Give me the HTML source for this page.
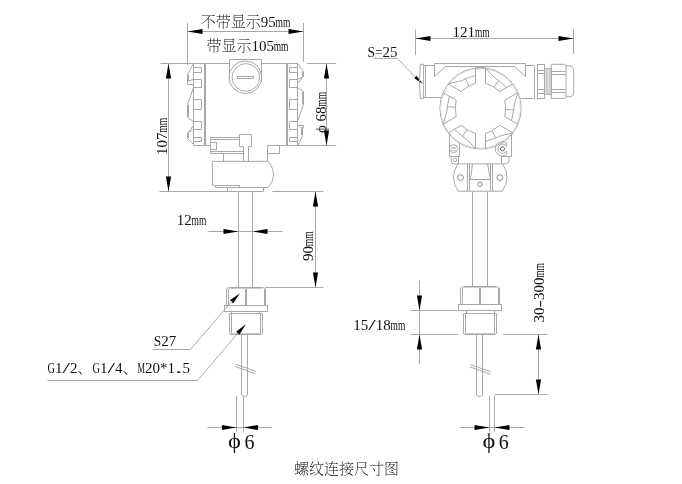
<!DOCTYPE html>
<html lang="zh-CN"><head><meta charset="utf-8"><title>螺纹连接尺寸图</title>
<style>
html,body{margin:0;padding:0;background:#fff}
svg{display:block;will-change:transform}
svg line,svg path,svg rect,svg circle{fill:none;stroke:#a8a8a8;stroke-width:1}
svg .g{stroke:#cccccc}
svg .g2{stroke:#e2e2e2}
svg .k2{stroke:#888}
svg .k{stroke:#666;stroke-width:1}
svg .gl{fill:#e6e6e6}
svg .hb{stroke:#aaaaaa;stroke-width:1.6}
svg polygon.a{fill:#000;stroke:none}
svg text{font-weight:200;font-family:"Liberation Serif","Noto Serif CJK SC",serif;font-size:15px;fill:#111}
</style></head><body>
<svg width="682" height="484" viewBox="0 0 682 484">
<line x1="187.50" y1="23.00" x2="187.50" y2="65.40"/>
<line x1="303.50" y1="23.00" x2="303.50" y2="61.60"/>
<line x1="187.60" y1="31.50" x2="303.70" y2="31.50"/>
<polygon class="a" points="187.50,31.50 202.50,34.10 202.50,28.90"/>
<polygon class="a" points="303.50,31.50 288.50,28.90 288.50,34.10"/>
<text x="200.70" y="26.60">不带显示95<tspan dx="-0.2" textLength="14.8" lengthAdjust="spacingAndGlyphs">mm</tspan></text>
<text x="206.40" y="51.10">带显示105<tspan dx="-0.2" textLength="14.8" lengthAdjust="spacingAndGlyphs">mm</tspan></text>
<line x1="160.50" y1="63.50" x2="229.10" y2="63.50"/>
<line x1="159.50" y1="191.50" x2="263.30" y2="191.50"/>
<line x1="168.50" y1="63.20" x2="168.50" y2="191.30"/>
<polygon class="a" points="168.50,63.50 165.90,78.50 171.10,78.50"/>
<polygon class="a" points="168.50,191.50 171.10,176.50 165.90,176.50"/>
<text x="166.60" y="155.00" transform="rotate(-90 166.60 155.00)">107<tspan dx="-0.2" textLength="14.8" lengthAdjust="spacingAndGlyphs">mm</tspan></text>
<line x1="261.70" y1="63.50" x2="297.60" y2="63.50"/>
<line x1="306.90" y1="63.50" x2="336.20" y2="63.50"/>
<line x1="267.40" y1="145.50" x2="336.20" y2="145.50"/>
<line x1="326.50" y1="63.20" x2="326.50" y2="145.30"/>
<polygon class="a" points="326.50,63.50 323.90,78.50 329.10,78.50"/>
<polygon class="a" points="326.50,145.50 329.10,130.50 323.90,130.50"/>
<text x="325.60" y="136.00" transform="rotate(-90 325.60 136.00)"><tspan dx="3">ϕ</tspan><tspan dx="3.6">68</tspan><tspan dx="-0.2" textLength="14.8" lengthAdjust="spacingAndGlyphs">mm</tspan></text>
<path d="M229.50 81.50 L229.50 59.50 L261.50 59.50 L261.50 81.50"/>
<circle cx="245.40" cy="77.30" r="16.30"/>
<circle cx="245.90" cy="77.40" r="13.80"/>
<rect x="237.50" y="76.50" width="16.00" height="2.00"/>
<line x1="193.50" y1="63.20" x2="193.50" y2="144.90"/>
<path d="M193.50 67.50 L201.50 67.50 L201.50 72.50 L193.50 72.50"/>
<path d="M193.50 79.50 L201.50 79.50 L201.50 87.50 L193.50 87.50"/>
<path d="M193.50 99.50 L201.50 99.50 L201.50 109.50 L193.50 109.50"/>
<path d="M193.50 121.50 L201.50 121.50 L201.50 129.50 L193.50 129.50"/>
<path d="M193.50 137.50 L201.50 137.50 L201.50 141.50 L193.50 141.50"/>
<line x1="204.50" y1="63.50" x2="204.50" y2="145.30"/>
<line x1="205.50" y1="63.50" x2="205.50" y2="145.30"/>
<path d="M193.50 63.50 L187.50 74.50 L187.50 84.50 L193.50 84.50"/>
<line x1="188.50" y1="74.50" x2="188.50" y2="81.00"/>
<line x1="187.30" y1="81.20" x2="193.40" y2="79.50"/>
<path d="M193.50 87.50 L187.50 104.50 L187.50 117.50 L193.50 121.50"/>
<line x1="188.50" y1="105.00" x2="188.50" y2="116.80"/>
<path d="M193.50 125.50 L187.50 133.50 L187.50 138.50 L193.50 144.50"/>
<line x1="193.40" y1="129.60" x2="187.30" y2="133.00"/>
<line x1="188.50" y1="133.30" x2="188.50" y2="138.00"/>
<line x1="193.40" y1="145.50" x2="210.40" y2="145.50"/>
<line x1="297.50" y1="63.20" x2="297.50" y2="145.30"/>
<path d="M297.50 67.50 L289.50 67.50 L289.50 72.50 L297.50 72.50"/>
<path d="M297.50 79.50 L289.50 79.50 L289.50 87.50 L297.50 87.50"/>
<path d="M297.50 99.50 L289.50 99.50 L289.50 109.50 L297.50 109.50"/>
<path d="M297.50 121.50 L289.50 121.50 L289.50 129.50 L297.50 129.50"/>
<path d="M297.50 137.50 L289.50 137.50 L289.50 141.50 L297.50 141.50"/>
<line x1="286.50" y1="63.50" x2="286.50" y2="145.30"/>
<line x1="287.50" y1="63.50" x2="287.50" y2="145.30"/>
<path d="M297.50 63.50 L303.50 71.50 L303.50 76.50 L297.50 79.50"/>
<line x1="303.30" y1="76.10" x2="297.60" y2="83.60"/>
<line x1="302.50" y1="71.50" x2="302.50" y2="76.00"/>
<path d="M297.50 87.50 L303.50 91.50 L303.50 104.50 L297.50 121.50"/>
<line x1="302.50" y1="92.00" x2="302.50" y2="104.50"/>
<path d="M297.50 125.50 L303.50 125.50 L303.50 127.50 L300.50 127.50"/>
<path d="M302.50 127.50 L302.50 135.50 L298.50 144.50"/>
<line x1="301.50" y1="128.00" x2="301.50" y2="135.00"/>
<path d="M239.50 137.50 L210.50 137.50 L210.50 153.50 L243.50 153.50"/>
<line x1="210.40" y1="139.50" x2="239.60" y2="139.50"/>
<line x1="210.40" y1="151.50" x2="243.00" y2="151.50"/>
<rect x="210.50" y="142.50" width="6.00" height="7.00"/>
<path d="M243.50 161.50 L243.50 146.50 L239.50 146.50 L239.50 134.50 L251.50 134.50 L251.50 146.50 L248.50 146.50 L248.50 161.50"/>
<line x1="223.50" y1="153.30" x2="223.50" y2="161.30"/>
<path d="M267.50 161.50 L267.50 145.50"/>
<path d="M267.50 153.50 L279.50 153.50 L279.50 145.50"/>
<path d="M267.6 161.3 L212.4 161.3 L212.4 185.2 L215.3 185.2 L215.3 187.5 L267.6 187.5 A17.6 17.6 0 0 0 267.6 161.3"/>
<path d="M215.50 185.50 L239.50 185.50 L239.50 187.50"/>
<path d="M227.50 187.50 L227.50 191.50"/>
<path d="M263.50 187.50 L263.50 191.50"/>
<line x1="238.50" y1="191.30" x2="238.50" y2="287.50"/>
<line x1="252.50" y1="191.30" x2="252.50" y2="287.50"/>
<line x1="208.40" y1="231.50" x2="282.70" y2="231.50"/>
<polygon class="a" points="238.50,231.50 223.50,228.90 223.50,234.10"/>
<polygon class="a" points="252.50,231.50 267.50,234.10 267.50,228.90"/>
<text x="176.80" y="225.00">12<tspan dx="-0.2" textLength="14.8" lengthAdjust="spacingAndGlyphs">mm</tspan></text>
<line x1="272.40" y1="191.50" x2="323.50" y2="191.50"/>
<line x1="265.20" y1="287.50" x2="323.50" y2="287.50"/>
<line x1="315.50" y1="191.30" x2="315.50" y2="287.50"/>
<polygon class="a" points="315.50,191.50 312.90,206.50 318.10,206.50"/>
<polygon class="a" points="315.50,287.50 318.10,272.50 312.90,272.50"/>
<text x="312.80" y="261.00" transform="rotate(-90 312.80 261.00)">90<tspan dx="-0.2" textLength="14.8" lengthAdjust="spacingAndGlyphs">mm</tspan></text>
<path d="M226.50 305.50 L226.50 289.70 Q226.80 287.80 229.50 287.50 L262.50 287.50 Q265.20 287.80 265.50 289.70 L265.50 305.50"/>
<line x1="228.50" y1="289.00" x2="228.50" y2="305.50"/>
<line x1="264.50" y1="289.00" x2="264.50" y2="305.50"/>
<line x1="245.50" y1="288.50" x2="245.50" y2="305.50"/>
<line x1="246.50" y1="288.50" x2="246.50" y2="305.50"/>
<line x1="229.50" y1="288.50" x2="262.50" y2="288.50" class="g"/>
<rect x="224.50" y="305.50" width="43.00" height="6.00"/>
<line x1="231.50" y1="311.50" x2="231.50" y2="313.50"/>
<line x1="259.50" y1="311.50" x2="259.50" y2="313.50"/>
<path d="M229.50 313.50 L262.50 313.50 L262.50 333.50 L261.50 334.50 L230.50 334.50 L229.50 333.50 Z"/>
<line x1="231.50" y1="313.50" x2="231.50" y2="334.50"/>
<line x1="260.50" y1="313.50" x2="260.50" y2="334.50"/>
<line x1="230.50" y1="333.50" x2="261.50" y2="333.50" class="g"/>
<path d="M241.50 334.50 L241.50 394.00 Q241.50 396.40 243.90 396.40 L245.10 396.40 Q247.50 396.40 247.50 394.00 L247.50 334.50"/>
<line x1="236.20" y1="364.40" x2="256.00" y2="371.40"/>
<line x1="235.50" y1="366.60" x2="255.30" y2="373.70"/>
<polygon class="a" points="239.90,293.30 229.94,300.35 233.09,303.42"/>
<path d="M232.50 300.50 L190.50 349.50 L152.50 349.50"/>
<text x="153.70" y="346.00"><tspan textLength="7.50" lengthAdjust="spacingAndGlyphs">S</tspan>27</text>
<polygon class="a" points="245.80,324.30 236.11,331.72 239.37,334.67"/>
<path d="M238.50 332.50 L197.50 380.50 L47.50 380.50"/>
<text x="47.40" y="373.00"><tspan textLength="7.50" lengthAdjust="spacingAndGlyphs">G</tspan>1<tspan textLength="7.50" lengthAdjust="spacingAndGlyphs">/</tspan>2、<tspan textLength="7.50" lengthAdjust="spacingAndGlyphs">G</tspan>1<tspan textLength="7.50" lengthAdjust="spacingAndGlyphs">/</tspan>4、<tspan textLength="7.50" lengthAdjust="spacingAndGlyphs">M</tspan>20<tspan textLength="7.50" lengthAdjust="spacingAndGlyphs">*</tspan>1<tspan textLength="7.50" lengthAdjust="spacingAndGlyphs">.</tspan>5</text>
<line x1="236.50" y1="395.80" x2="236.50" y2="431.60"/>
<line x1="243.50" y1="395.80" x2="243.50" y2="431.60"/>
<line x1="207.40" y1="427.50" x2="272.00" y2="427.50"/>
<polygon class="a" points="236.50,427.50 222.00,425.00 222.00,430.00"/>
<polygon class="a" points="243.50,427.50 258.00,430.00 258.00,425.00"/>
<text x="228.00" y="449.40" style="font-size:20px"><tspan dy="-1.5" textLength="12.9" lengthAdjust="spacingAndGlyphs">ϕ</tspan><tspan x="244.5" dy="1.5">6</tspan></text>
<text x="294.00" y="473.60">螺纹连接尺寸图</text>
<line x1="415.50" y1="29.60" x2="415.50" y2="55.20"/>
<line x1="573.50" y1="29.60" x2="573.50" y2="54.00"/>
<line x1="415.50" y1="38.50" x2="573.70" y2="38.50"/>
<polygon class="a" points="415.50,38.50 430.50,41.10 430.50,35.90"/>
<polygon class="a" points="573.50,38.50 558.50,35.90 558.50,41.10"/>
<text x="452.60" y="37.10">121<tspan dx="-0.2" textLength="14.8" lengthAdjust="spacingAndGlyphs">mm</tspan></text>
<text x="367.60" y="57.40"><tspan textLength="7.50" lengthAdjust="spacingAndGlyphs">S</tspan><tspan textLength="7.50" lengthAdjust="spacingAndGlyphs">=</tspan>25</text>
<path d="M373.50 58.40 L397.40 58.40 L415.30 77.00"/>
<polygon class="a" points="422.90,83.90 416.48,75.82 414.31,78.17"/>
<path d="M423.6 64.3 L420.3 64.3 Q418.6 81.4 420.3 98.4 L423.6 98.4 Z"/>
<path d="M423.50 65.50 L434.50 65.50"/>
<line x1="425.50" y1="65.30" x2="425.50" y2="97.40"/>
<path d="M434.50 76.50 L434.50 63.50 L525.50 63.50 L525.50 76.50 L514.50 66.50 L445.50 66.50 L434.50 76.50"/>
<line x1="423.60" y1="97.50" x2="441.40" y2="97.50"/>
<path d="M525.50 65.50 L534.50 65.50 L534.50 98.50 L519.50 98.50"/>
<rect x="537.50" y="64.50" width="7.00" height="34.00"/>
<line x1="537.00" y1="70.50" x2="544.80" y2="70.50"/>
<line x1="537.00" y1="73.50" x2="544.80" y2="73.50"/>
<line x1="537.00" y1="89.50" x2="544.80" y2="89.50"/>
<line x1="537.00" y1="93.50" x2="544.80" y2="93.50"/>
<rect x="544.50" y="68.50" width="7.00" height="26.00" class="gl"/>
<line x1="546.50" y1="68.40" x2="546.50" y2="94.30" class="g"/>
<line x1="547.50" y1="68.40" x2="547.50" y2="94.30" class="g"/>
<line x1="549.50" y1="68.40" x2="549.50" y2="94.30" class="g"/>
<path d="M551.2 64.3 L564.8 64.3 Q566 64.6 566 66 L566 96.7 Q566 98.1 564.8 98.4 L551.2 98.4 Z"/>
<line x1="551.20" y1="71.50" x2="565.60" y2="71.50"/>
<line x1="551.20" y1="74.50" x2="565.60" y2="74.50"/>
<line x1="551.20" y1="89.50" x2="565.60" y2="89.50"/>
<line x1="551.20" y1="92.50" x2="565.60" y2="92.50"/>
<path d="M566 65.8 L570 65.8 Q573.7 66.2 573.7 70.5 L573.7 92.6 Q573.7 96.6 570 96.8 L566 96.8"/>
<circle cx="480.50" cy="108.40" r="40.60"/>
<circle cx="480.50" cy="108.40" r="39.70" class="g2"/>
<path d="M475.5 67.6 L485.3 67.6" class="hb"/>
<path d="M517.89 92.58 L504.83 100.13 L505.70 109.00 L504.83 116.67 L517.89 124.22"/>
<path d="M517.89 92.58 L513.75 106.66 L513.75 110.14 L511.51 120.53"/>
<path d="M513.75 110.14 L505.70 109.40"/>
<path d="M485.50 68.11 L485.50 83.19 L493.62 86.88 L499.83 91.47 L512.89 83.92"/>
<path d="M485.50 68.11 L495.62 78.73 L498.64 80.47 L506.51 87.61"/>
<path d="M498.64 80.47 L493.97 87.08"/>
<path d="M448.11 83.92 L461.17 91.47 L468.42 86.28 L475.50 83.19 L475.50 68.11"/>
<path d="M448.11 83.92 L462.36 80.47 L465.38 78.73 L475.50 75.48"/>
<path d="M465.38 78.73 L468.77 86.08"/>
<path d="M443.11 124.22 L456.17 116.67 L455.30 107.80 L456.17 100.13 L443.11 92.58"/>
<path d="M443.11 124.22 L447.25 110.14 L447.25 106.66 L449.49 96.27"/>
<path d="M447.25 106.66 L455.30 107.40"/>
<path d="M475.50 148.69 L475.50 133.61 L467.38 129.92 L461.17 125.33 L448.11 132.88"/>
<path d="M475.50 148.69 L465.38 138.07 L462.36 136.33 L454.49 129.19"/>
<path d="M462.36 136.33 L467.03 129.72"/>
<path d="M512.89 132.88 L499.83 125.33 L492.58 130.52 L485.50 133.61 L485.50 148.69"/>
<path d="M512.89 132.88 L498.64 136.33 L495.62 138.07 L485.50 141.32"/>
<path d="M495.62 138.07 L492.23 130.72"/>
<path d="M449.50 133.50 L449.50 156.50 L459.50 156.50 L459.50 143.50"/>
<line x1="458.50" y1="156.40" x2="458.50" y2="163.90"/>
<circle cx="453.50" cy="148.60" r="4.00"/>
<line x1="451.30" y1="147.50" x2="455.80" y2="147.50" class="g"/>
<line x1="451.00" y1="148.50" x2="456.00" y2="148.50" class="g"/>
<line x1="451.30" y1="150.50" x2="455.80" y2="150.50" class="g"/>
<path d="M451.2 156.4 L451.2 161.2 Q451.4 163.9 454 163.9 L506 163.9 Q509 163.4 509 160.6 L509 156.4"/>
<circle cx="455.00" cy="159.90" r="1.80"/>
<path d="M511.50 134.50 L511.50 156.50 L501.50 156.50 L501.50 163.50"/>
<circle cx="502.50" cy="148.80" r="2.10" class="k"/>
<path d="M506.7 143.0 A7.2 7.2 0 1 0 506.7 154.6 L506.7 151.0 A4.7 4.7 0 1 1 506.7 146.6 Z"/>
<path d="M457.8 163.8 Q448.8 177.5 458.2 191.2 L502.2 191.2 Q511.6 177.5 502.6 163.8"/>
<line x1="467.50" y1="163.80" x2="467.50" y2="191.20"/>
<line x1="469.50" y1="163.80" x2="469.50" y2="191.20"/>
<line x1="490.50" y1="163.80" x2="490.50" y2="191.20"/>
<line x1="492.50" y1="163.80" x2="492.50" y2="191.20"/>
<path d="M472.50 163.50 L470.50 179.50"/>
<path d="M487.50 163.50 L490.50 179.50"/>
<line x1="469.10" y1="179.50" x2="490.90" y2="179.50"/>
<circle cx="460.50" cy="177.60" r="2.90" class="k2"/>
<circle cx="499.80" cy="177.60" r="2.90" class="k2"/>
<circle cx="480.00" cy="184.30" r="2.20" class="k2"/>
<line x1="472.50" y1="191.20" x2="472.50" y2="286.40"/>
<line x1="487.50" y1="191.20" x2="487.50" y2="286.40"/>
<path d="M460.50 304.50 L460.50 288.70 Q460.80 286.80 463.50 286.50 L496.50 286.50 Q499.20 286.80 499.50 288.70 L499.50 304.50"/>
<line x1="462.50" y1="288.00" x2="462.50" y2="304.50"/>
<line x1="498.50" y1="288.00" x2="498.50" y2="304.50"/>
<line x1="479.50" y1="287.50" x2="479.50" y2="304.50"/>
<line x1="480.50" y1="287.50" x2="480.50" y2="304.50"/>
<line x1="463.50" y1="287.50" x2="496.50" y2="287.50" class="g"/>
<rect x="458.50" y="304.50" width="43.00" height="6.00"/>
<line x1="466.50" y1="310.50" x2="466.50" y2="313.50"/>
<line x1="494.50" y1="310.50" x2="494.50" y2="313.50"/>
<path d="M463.50 313.50 L496.50 313.50 L496.50 333.50 L495.50 334.50 L464.50 334.50 L463.50 333.50 Z"/>
<line x1="465.50" y1="313.50" x2="465.50" y2="334.50"/>
<line x1="494.50" y1="313.50" x2="494.50" y2="334.50"/>
<line x1="464.50" y1="333.50" x2="495.50" y2="333.50" class="g"/>
<path d="M476.50 334.50 L476.50 394.00 Q476.50 396.40 478.90 396.40 L480.10 396.40 Q482.50 396.40 482.50 394.00 L482.50 334.50"/>
<line x1="470.40" y1="364.70" x2="490.90" y2="371.70"/>
<line x1="469.70" y1="366.90" x2="490.20" y2="374.00"/>
<line x1="410.80" y1="310.50" x2="457.20" y2="310.50"/>
<line x1="410.80" y1="334.50" x2="458.00" y2="334.50"/>
<line x1="419.50" y1="280.80" x2="419.50" y2="364.20"/>
<polygon class="a" points="419.50,310.50 422.10,295.50 416.90,295.50"/>
<polygon class="a" points="419.50,334.50 416.90,349.50 422.10,349.50"/>
<text x="353.30" y="329.50">15<tspan textLength="7.50" lengthAdjust="spacingAndGlyphs">/</tspan>18<tspan dx="-0.2" textLength="14.8" lengthAdjust="spacingAndGlyphs">mm</tspan></text>
<line x1="503.00" y1="334.50" x2="547.30" y2="334.50"/>
<line x1="494.50" y1="394.50" x2="547.30" y2="394.50"/>
<line x1="538.50" y1="334.20" x2="538.50" y2="394.20"/>
<polygon class="a" points="538.50,334.50 535.90,349.50 541.10,349.50"/>
<polygon class="a" points="538.50,394.50 541.10,379.50 535.90,379.50"/>
<text x="544.00" y="322.60" transform="rotate(-90 544.00 322.60)">30<tspan textLength="7.50" lengthAdjust="spacingAndGlyphs">-</tspan>300<tspan dx="-0.2" textLength="14.8" lengthAdjust="spacingAndGlyphs">mm</tspan></text>
<line x1="489.50" y1="395.80" x2="489.50" y2="431.70"/>
<line x1="494.50" y1="395.80" x2="494.50" y2="431.70"/>
<line x1="459.80" y1="427.50" x2="525.00" y2="427.50"/>
<polygon class="a" points="489.50,427.50 474.50,424.90 474.50,430.10"/>
<polygon class="a" points="494.50,427.50 509.50,430.10 509.50,424.90"/>
<text x="482.60" y="449.20" style="font-size:20px"><tspan dy="-1.5" textLength="12.9" lengthAdjust="spacingAndGlyphs">ϕ</tspan><tspan x="498.8" dy="1.5">6</tspan></text>
</svg>
</body></html>
